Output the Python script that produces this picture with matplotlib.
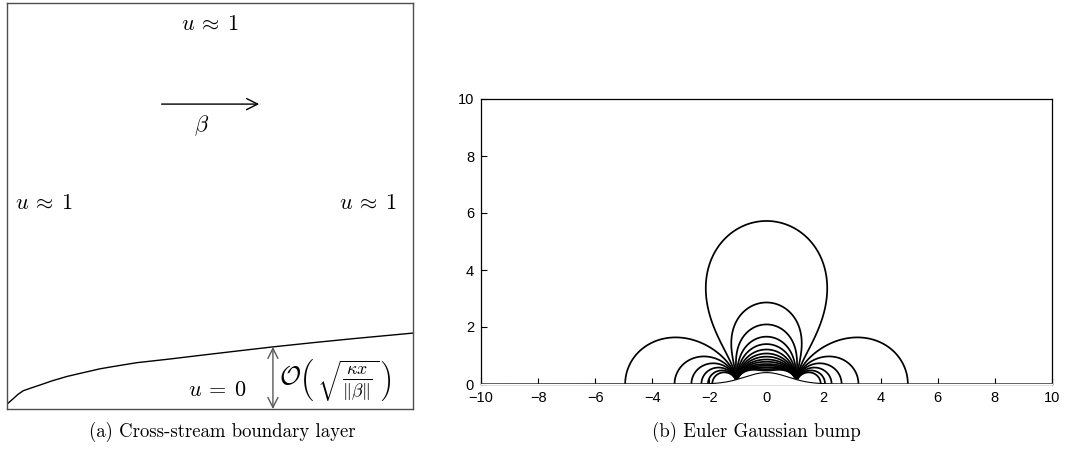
import numpy as np
import matplotlib
matplotlib.use("Agg")
import matplotlib.pyplot as plt

plt.rcParams['mathtext.fontset'] = 'cm'
plt.rcParams['font.family'] = ['Liberation Sans', 'DejaVu Sans']

# left panel: boundary layer edge (box fraction coords)
layer_x = [0.0, 0.008, 0.016, 0.027, 0.040, 0.060, 0.081, 0.110, 0.147, 0.190,
           0.229, 0.270, 0.319, 0.400, 0.475, 0.560, 0.655, 0.750, 0.850, 1.0]
layer_y = [0.012, 0.019, 0.026, 0.036, 0.045, 0.052, 0.059, 0.069, 0.080, 0.090,
           0.099, 0.106, 0.114, 0.123, 0.132, 0.142, 0.153, 0.163, 0.173, 0.187]

# right panel: contour extents
pinch_x = 1.05                       # where the lines gather on the bump
central_tops = [5.72, 2.86, 2.09, 1.66, 1.40, 1.21, 1.07, 0.96, 0.86,
                0.78, 0.70, 0.64, 0.58, 0.52, 0.47]
side_ends = [4.95, 3.22, 2.63, 2.28, 2.05, 1.9]
bump_height = 0.40
bump_width = 1.16
x_ticks = [-10, -8, -6, -4, -2, 0, 2, 4, 6, 8, 10]
y_ticks = [0, 2, 4, 6, 8, 10]

fig = plt.figure(figsize=(10.65, 4.58), dpi=100)
W, H = 1065.0, 458.0

# ---- (a) cross-stream boundary layer ----
ax1 = fig.add_axes([7 / W, 1 - 409 / H, 406 / W, 406 / H])
ax1.set_xlim(0, 1)
ax1.set_ylim(0, 1)
ax1.set_xticks([])
ax1.set_yticks([])
for s in ax1.spines.values():
    s.set_color('0.3')
    s.set_linewidth(1.0)

fs = 16
ax1.plot(layer_x, layer_y, color='k', lw=1.0)
ax1.text(0.5, 0.948, r'$u\:\approx\:1$', ha='center', va='center', fontsize=fs)
ax1.text(0.091, 0.507, r'$u\:\approx\:1$', ha='center', va='center', fontsize=fs)
ax1.text(0.889, 0.507, r'$u\:\approx\:1$', ha='center', va='center', fontsize=fs)
ax1.annotate('', xy=(0.628, 0.751), xytext=(0.374, 0.751),
             arrowprops=dict(arrowstyle='->', color='k', lw=1.0, mutation_scale=20))
ax1.text(0.48, 0.697, r'$\beta$', ha='center', va='center', fontsize=fs)
ax1.text(0.517, 0.045, r'$u\:=\:0$', ha='center', va='center', fontsize=fs)
ax1.annotate('', xy=(0.655, 0.0), xytext=(0.655, 0.153),
             arrowprops=dict(arrowstyle='<->', color='0.35', lw=1.0, mutation_scale=18,
                             shrinkA=0, shrinkB=0))
ax1.text(0.808, 0.072,
         r'$\mathcal{O}\left(\,\sqrt{\frac{\kappa x}{\Vert\beta\Vert}}\,\right)$',
         ha='center', va='center', fontsize=18.5)

# ---- (b) Euler Gaussian bump ----
ax2 = fig.add_axes([481 / W, 1 - 384 / H, 571 / W, 285 / H])
xs = np.linspace(-10, 10, 2001)
ys = np.linspace(0, 10, 1001)
X, Y = np.meshgrid(xs, ys)
Z = X + 1j * Y


def field(z):
    return np.real(1.0 / (z ** 2 - pinch_x ** 2))


G = field(Z)
levels = [field(1j * t) for t in central_tops] + [field(complex(e, 0)) for e in side_ends]
levels = sorted(levels)
ax2.contour(X, Y, G, levels=levels, colors='k', linewidths=1.25)

bx = np.linspace(-10, 10, 801)
by = bump_height * np.exp(-bx ** 2 / bump_width)
ax2.fill_between(bx, 0, by, color='white', zorder=3)
ax2.plot(bx, by, color='k', lw=0.8, zorder=4)

ax2.set_xlim(-10, 10)
ax2.set_ylim(0, 10)
ax2.set_xticks(x_ticks)
ax2.set_yticks(y_ticks)
ax2.tick_params(direction='in', length=4, width=0.8, top=False, right=False,
                labelsize=10.5, colors='k', pad=5)
for s in ax2.spines.values():
    s.set_color('k')
    s.set_linewidth(0.9)

fig.text(222 / W, 1 - 432 / H, '(a) Cross-stream boundary layer', fontname='cmr10',
         fontsize=13.5, ha='center', va='center')
fig.text(756 / W, 1 - 432 / H, '(b) Euler Gaussian bump', fontname='cmr10',
         fontsize=13.5, ha='center', va='center')

fig.savefig('out.png', dpi=100)
